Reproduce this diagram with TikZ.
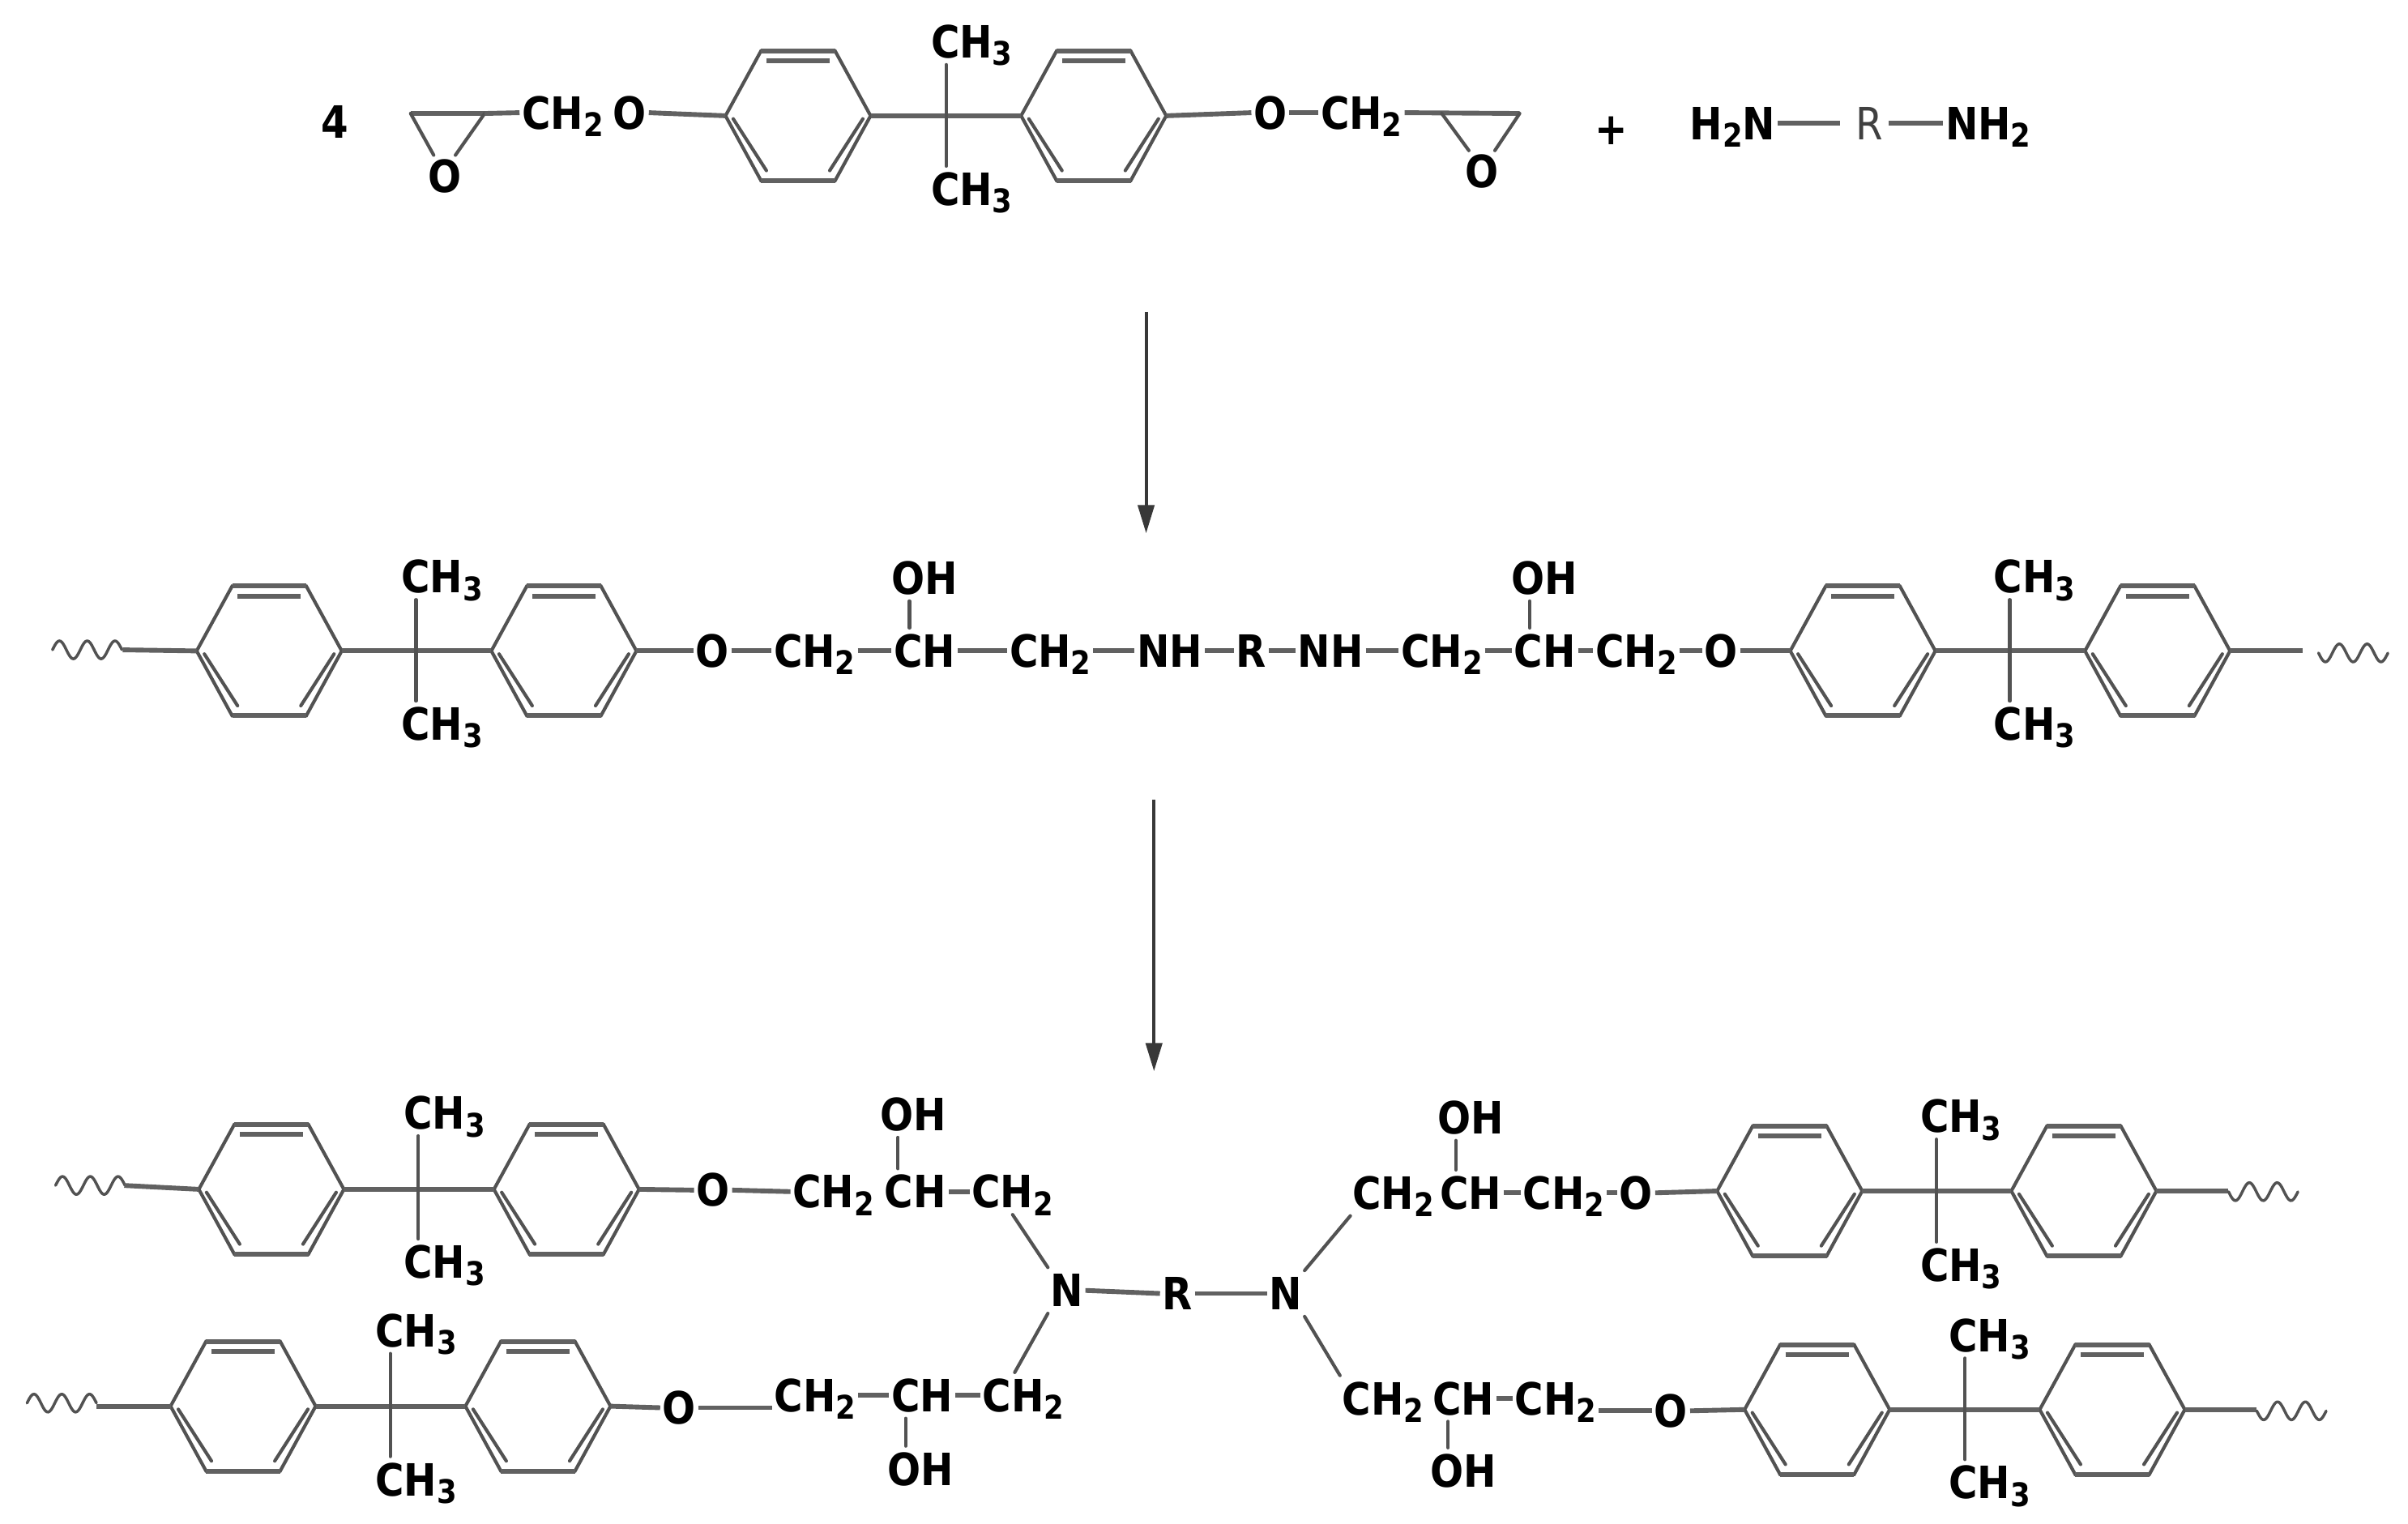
\documentclass[tikz,border=0pt]{standalone}
\usepackage{fontspec}
\setmainfont{DejaVu Sans}[FakeStretch=0.88]
\usetikzlibrary{arrows.meta}
\newcommand{\lowd}[1]{\raisebox{-7pt}{\fontsize{30}{30}\selectfont #1}}
\newcommand{\chtwo}{CH\lowd{2}}
\newcommand{\chthree}{CH\lowd{3}}
\newcommand{\ringat}[3]{%
  \coordinate (#1-L) at (#2-47,#3);
  \coordinate (#1-R) at (#2+47,#3);
  \draw[bond,line join=miter] (#2-47,#3)--(#2-24,#3-42)--(#2+24,#3-42)--(#2+47,#3)--(#2+24,#3+42)--(#2-24,#3+42)--cycle;
  \draw[hbond] (#2-24,#3-42)--(#2+24,#3-42);
  \draw[hbond] (#2-24,#3+42)--(#2+24,#3+42);
  \draw[hbond] (#2-20.5,#3-35.5)--(#2+20.5,#3-35.5);
  \draw[bond] (#2-42,#3+2)--(#2-20.5,#3+35.5);
  \draw[bond] (#2+42,#3+2)--(#2+20.5,#3+35.5);}
% name, ring1 x, ring2 x, quaternary x, label x, y, top label y, bottom label y
\newcommand{\bisunit}[8]{%
  \ringat{#1a}{#2}{#6}
  \ringat{#1b}{#3}{#6}
  \coordinate (#1q) at (#4,#6);
  \node[atom] (#1t) at (#5,#7) {\chthree};
  \node[atom] (#1u) at (#5,#8) {\chthree};
  \draw[hbond] (#1a-R)--(#1q)--(#1b-L);
  \draw[bond] (#1q |- #1t.south)--(#1q |- #1u.north);}
% start x, y, sign (+1 starts upward, -1 starts downward)
\newcommand{\wavy}[3]{%
  \draw[bond,line width=2.6pt,domain=0:1,samples=70,smooth,variable=\t] plot ({#1+45*\t},{#2-(#3)*5.8*sin(900*\t)});}
\newcommand{\ohup}[2]{\draw[bond] ([xshift=-14pt]#1.south)--([xshift=-14pt]#1.south |- #2.north);}
\newcommand{\ohdown}[2]{\draw[bond] ([xshift=-14pt]#1.north)--([xshift=-14pt]#1.north |- #2.south);}
\tikzset{
  x=0.5mm,y=-0.5mm,
  bond/.style={draw=black!68,line width=3.1pt,line cap=round},
  hbond/.style={draw=black!62,line width=4.4pt,line cap=butt},
  atom/.style={font=\bfseries\fontsize{41}{41}\selectfont,text=black,inner xsep=2pt,inner ysep=6pt,text height=30pt,text depth=0pt},
  group/.style={font=\fontsize{41}{41}\selectfont,text=black!75,inner xsep=5pt,inner ysep=7pt,text height=30pt,text depth=0pt},
  rxn/.style={draw=black!78,line width=3pt,-{Triangle[length=26pt,width=15pt]}}
}
\begin{document}
\begin{tikzpicture}
\useasboundingbox (0,0) rectangle (1560,987.3);
\fill[white] (0,0) rectangle (1560,987.3);

%%% reactants
\node[atom] (four) at (217,79) {4};
\coordinate (ea1) at (266,73.5);
\coordinate (ea2) at (314,73.5);
\node[atom,inner sep=4pt] (eaO) at (288,114) {O};
\node[atom] (c1) at (364.5,73) {\chtwo};
\node[atom] (o1) at (408,73) {O};
\draw[hbond] (ea1)--(ea2);
\draw[bond] (ea1)--([xshift=-10pt]eaO.north);
\draw[bond] (ea2)--([xshift=10pt]eaO.north);
\draw[hbond] (ea2)--(c1.west);
\bisunit{A}{517}{708.5}{613}{629.5}{75}{27}{122.5}
\draw[hbond] (o1.east)--(Aa-L);
\node[atom] (o2) at (823,73) {O};
\node[atom] (c2) at (882,73) {\chtwo};
\coordinate (eb1) at (934,73.5);
\coordinate (eb2) at (984.5,73.5);
\node[atom,inner sep=4pt] (ebO) at (960,111) {O};
\draw[hbond] (Ab-R)--(o2.west);
\draw[hbond] (o2.east)--(c2.west);
\draw[hbond] (c2.east)--(eb2);
\draw[bond] (eb1)--([xshift=-12pt]ebO.north);
\draw[bond] (eb2)--([xshift=12pt]ebO.north);
\node[atom] (plus) at (1044,83) {+};
\node[atom] (n1) at (1122.5,80) {H\lowd{2}N};
\node[group] (r0) at (1211,80) {R};
\node[atom] (n2) at (1288,80) {NH\lowd{2}};
\draw[hbond] (n1.east)--([xshift=-9pt]r0.west);
\draw[hbond] (r0.east)--(n2.west);

\coordinate (a1s) at (742.5,202);
\coordinate (a1e) at (742.5,345.5);
\draw[rxn] (a1s)--(a1e);

%%% linear adduct
\bisunit{B}{174.4}{365.3}{269.5}{286.3}{421.7}{373.6}{469}
\wavy{34}{421}{1}
\coordinate (b0) at (79.5,421);
\draw[hbond] (b0)--(Ba-L);
\node[atom] (b1) at (461.4,421.7) {O};
\node[atom] (b2) at (527.7,421.7) {\chtwo};
\node[atom] (b3) at (599,421.7) {CH};
\node[atom] (b3o) at (599,374.5) {OH};
\node[atom] (b4) at (680.4,421.7) {\chtwo};
\node[atom] (b5) at (757.8,421.7) {NH};
\node[atom] (b6) at (810.6,421.7) {R};
\node[atom] (b7) at (862,421.7) {NH};
\node[atom] (b8) at (934,421.7) {\chtwo};
\node[atom] (b9) at (1000.8,421.7) {CH};
\node[atom] (b9o) at (1000.8,374.5) {OH};
\node[atom] (b10) at (1060,421.7) {\chtwo};
\node[atom] (b11) at (1115,421.7) {O};
\draw[hbond] (Bb-R)--(b1.west);
\draw[hbond] (b1.east)--(b2.west);
\draw[hbond] (b2.east)--(b3.west);
\draw[hbond] (b3.east)--(b4.west);
\draw[hbond] (b4.east)--(b5.west);
\draw[hbond] (b5.east)--(b6.west);
\draw[hbond] (b6.east)--(b7.west);
\draw[hbond] (b7.east)--(b8.west);
\draw[hbond] (b8.east)--(b9.west);
\draw[hbond] (b9.east)--(b10.west);
\draw[hbond] (b10.east)--(b11.west);
\ohup{b3o}{b3}
\ohup{b9o}{b9}
\bisunit{C}{1206.8}{1397.7}{1302}{1318}{421.7}{373.6}{469}
\draw[hbond] (b11.east)--(Ca-L);
\coordinate (w2s) at (1492,421.7);
\draw[hbond] (Cb-R)--(w2s);
\wavy{1502}{423}{-1}

\coordinate (a2s) at (747.6,518);
\coordinate (a2e) at (747.6,694);
\draw[rxn] (a2s)--(a2e);

%%% crosslinked product
\node[atom] (N1) at (691,836) {N};
\node[atom] (R1) at (762.8,838) {R};
\node[atom] (N2) at (833,838) {N};
\draw[hbond] (N1.east)--(R1.west);
\draw[hbond] (R1.east)--(N2.west);

% top left
\bisunit{D}{175.8}{367}{271}{288}{770.5}{721}{817.5}
\wavy{36}{768}{1}
\coordinate (d0) at (80.5,768);
\draw[hbond] (d0)--(Da-L);
\node[atom] (d1) at (462,771) {O};
\node[atom] (d2) at (540,772) {\chtwo};
\node[atom] (d3) at (593,772) {CH};
\node[atom] (d3o) at (591.6,722) {OH};
\node[atom] (d4) at (656,772) {\chtwo};
\draw[hbond] (Db-R)--(d1.west);
\draw[hbond] (d1.east)--(d2.west);
\draw[hbond] (d3.east)--(d4.west);
\ohup{d3o}{d3}
\draw[bond] (d4.south)--(N1.north west);

% bottom left
\bisunit{E}{157.5}{348.5}{252.8}{269.5}{911}{862}{958.5}
\wavy{17.5}{909}{1}
\coordinate (e0) at (62.5,911);
\draw[hbond] (e0)--(Ea-L);
\node[atom] (e1) at (440,912) {O};
\node[atom] (e2) at (528,904) {\chtwo};
\node[atom] (e3) at (597.5,904) {CH};
\node[atom] (e3o) at (596.6,951.7) {OH};
\node[atom] (e4) at (663,904) {\chtwo};
\draw[hbond] (Eb-R)--(e1.west);
\draw[hbond] (e1.east)--(e1.east -| e2.west);
\draw[hbond] (e2.east)--(e3.west);
\draw[hbond] (e3.east)--(e4.west);
\ohdown{e3o}{e3}
\draw[bond] (N1.south west)--([xshift=-8pt]e4.north);

% top right
\bisunit{F}{1159.4}{1350}{1254.5}{1270.4}{771.6}{723.2}{819.5}
\node[atom] (f1) at (902.7,772.8) {\chtwo};
\node[atom] (f2) at (952.7,772.8) {CH};
\node[atom] (f2o) at (953,724) {OH};
\node[atom] (f3) at (1013,772.8) {\chtwo};
\node[atom] (f4) at (1060,772.8) {O};
\draw[hbond] (f2.east)--(f3.west);
\draw[hbond] (f3.east)--(f4.west);
\ohup{f2o}{f2}
\draw[hbond] (f4.east)--(Fa-L);
\draw[bond] (f1.south west)--(N2.north east);
\coordinate (w5s) at (1443.7,771.6);
\draw[hbond] (Fb-R)--(w5s);
\wavy{1443.7}{772}{-1}

% bottom right
\bisunit{G}{1177.2}{1368.4}{1273}{1289}{913.2}{865}{960.4}
\node[atom] (g1) at (896,906) {\chtwo};
\node[atom] (g2) at (948,906) {CH};
\node[atom] (g2o) at (948,952.8) {OH};
\node[atom] (g3) at (1007.7,906) {\chtwo};
\node[atom] (g4) at (1082.6,914) {O};
\draw[hbond] (g2.east)--(g3.west);
\draw[hbond] (g4.west -| g3.east)--(g4.west);
\ohdown{g2o}{g2}
\draw[hbond] (g4.east)--(Ga-L);
\draw[bond] (N2.south east)--(g1.north west);
\coordinate (w6s) at (1462,913.2);
\draw[hbond] (Gb-R)--(w6s);
\wavy{1462}{914}{-1}
\end{tikzpicture}
\end{document}
